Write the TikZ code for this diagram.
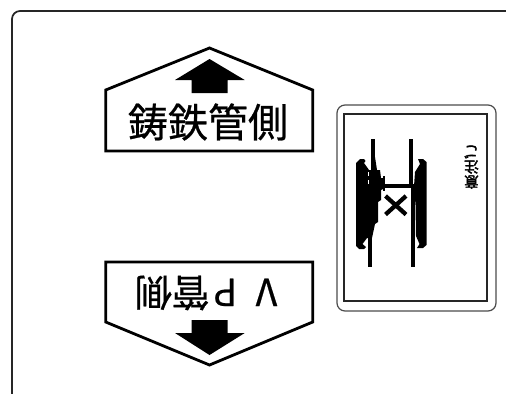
\documentclass[tikz,border=0pt]{standalone}
\usepackage{fontspec}
\newfontfamily\cjk{Noto Sans CJK JP}[FakeBold=0.6]
\newfontfamily\cjkb{Noto Sans CJK JP}[FakeBold=2.5]
\tikzset{
  frame/.style={draw=black!85,line width=1.3pt,line join=round},
  sign/.style={draw=black,line width=2.1pt,line join=miter,fill=white},
  solid black/.style={fill=black,draw=none},
  rail/.style={draw=black,line width=3pt},
  label/.style={inner sep=0pt,font=\cjk\fontsize{30}{30}\selectfont},
  small/.style={inner sep=0pt,rotate=180,font=\cjkb\fontsize{11}{11}\selectfont},
}
\begin{document}
\begin{tikzpicture}[x=0.75pt,y=-0.75pt]
\useasboundingbox (0,0) rectangle (506,393);
\fill[white] (0,0) rectangle (506,393);
% outer frame
\draw[frame,rounded corners=6pt] (12,400) -- (12,11) -- (520,11);
% top sign
\draw[sign] (209.5,48) -- (312.7,90) -- (312.7,151) -- (105.7,151) -- (105.7,90) -- cycle;
\fill[solid black] (209.5,59) -- (244.7,80) -- (227.7,80) -- (227.7,93) -- (191.7,93) -- (191.7,80) -- (175,80) -- cycle;
\node[label] (top) at (208,122) {鋳鉄管側};
% bottom sign
\draw[sign] (209.5,365) -- (312.7,322) -- (312.7,262) -- (105.7,262) -- (105.7,322) -- cycle;
\fill[solid black] (209.5,355) -- (244.7,333) -- (227.7,333) -- (227.7,320) -- (191.7,320) -- (191.7,333) -- (175,333) -- cycle;
\node[label,rotate=180,font=\cjk\fontsize{28}{28}\selectfont] (bottom) at (206,293) {V\hspace{14pt}P\hspace{3pt}管側};
% caution card
\draw[draw=black!70,line width=0.9pt,rounded corners=6pt,fill=white] (337,105) rectangle (496,311);
\draw[draw=black!85,line width=1.6pt] (344,114) rectangle (487,301);
% flanges
\fill[solid black] (356,163) -- (360,159) -- (364,159) -- (365.5,161) -- (364,163) -- (369,170) -- (373,170) -- (375,157) -- (377,170) -- (380,170) -- (381,178) -- (383,178) -- (383,189) -- (381,190) -- (381,200) -- (378,202) -- (378,222) -- (375,224) -- (372,238) -- (367,238) -- (362.5,244) -- (366,247) -- (364,249) -- (359,249) -- (356,246) -- cycle;
\draw[black,line width=1.5pt] (384,176) -- (384,191);
\draw[white,line width=0.7pt,dashed] (368,172) -- (368,186);
\fill[solid black] (418,159) -- (423,159) -- (426.5,162) -- (426.5,245) -- (423,248) -- (417,248) -- (419.5,244) -- (416,236) -- (415.5,205) -- (414,186) -- (415,172) -- (420,164) -- cycle;
% pipes
\draw[rail] (372.7,139) -- (372.7,185);
\draw[rail] (370,185) -- (370,267);
\draw[rail] (410.5,139) -- (410.5,185);
\draw[rail] (413.3,185) -- (413.3,267);
\draw[rail] (372,185.5) -- (414,185.5);
% cross
\draw[black,line width=3.2pt] (385.5,196) -- (406,214.5) (406,196) -- (385.5,214.5);
% small text
\node[small] (c1) at (471.5,152) {ご};
\node[small] (c2) at (471.5,167) {注};
\node[small] (c3) at (471.5,182) {意};
\end{tikzpicture}
\end{document}
